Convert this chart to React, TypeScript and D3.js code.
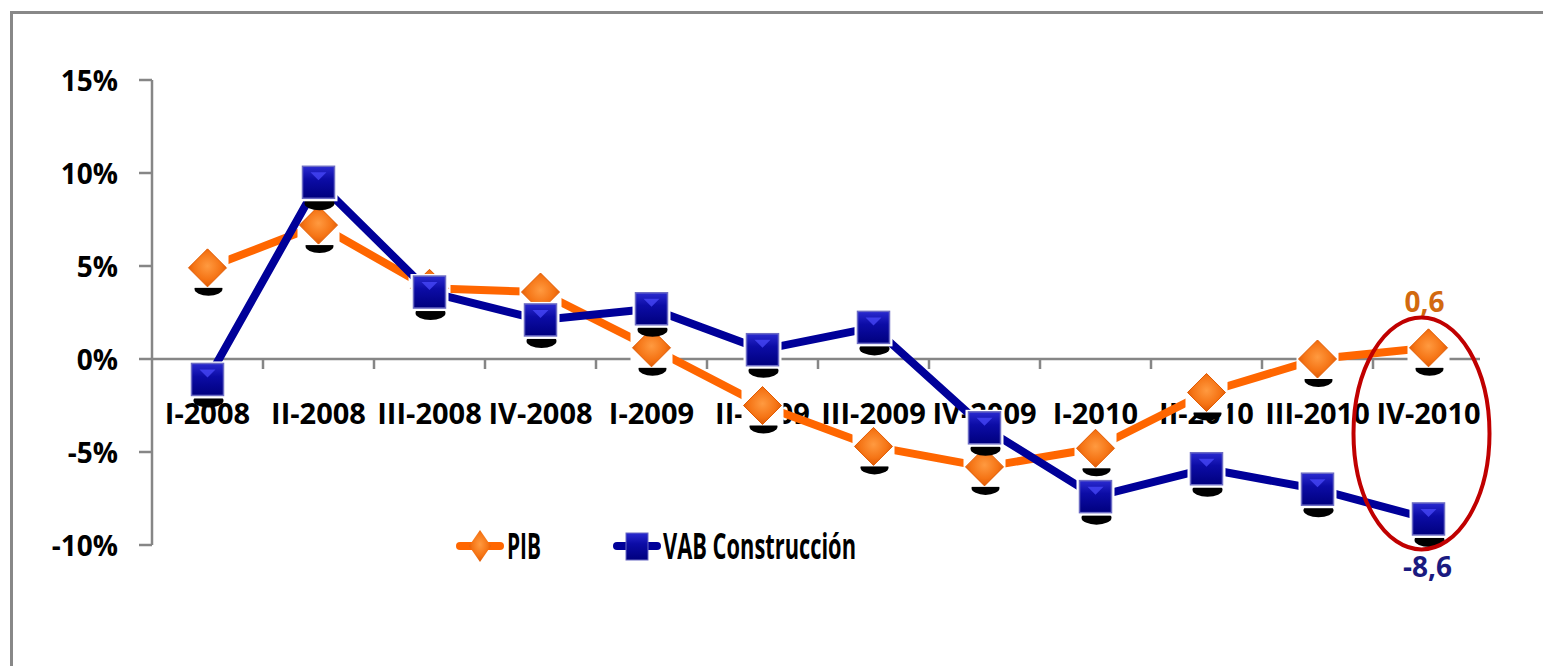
import * as d3 from 'd3';

const categories = ['I-2008', 'II-2008', 'III-2008', 'IV-2008', 'I-2009', 'II-2009', 'III-2009', 'IV-2009', 'I-2010', 'II-2010', 'III-2010', 'IV-2010'];
const pib = [4.9, 7.2, 3.8, 3.6, 0.6, -2.5, -4.7, -5.8, -4.8, -1.8, 0.0, 0.6];
const vab = [-1.1, 9.5, 3.6, 2.1, 2.7, 0.5, 1.7, -3.7, -7.4, -5.9, -7.0, -8.6];
const yTicks = [15, 10, 5, 0, -5, -10];
const seriesNames = ['PIB', 'VAB Construcción'];

const W = 1543;
const H = 666;
const FONT = '"Open Sans", "DejaVu Sans", sans-serif';
const ORANGE = '#ff6600';
const NAVY = '#000099';
const GRID = '#868686';

export default function App() {
  const x = d3.scaleBand<string>().domain(categories).range([152, 1484]).paddingInner(0).paddingOuter(0);
  const y = d3.scaleLinear().domain([-10, 15]).range([545, 80]);
  const cx = (c: string) => (x(c) as number) + x.bandwidth() / 2;

  const line = d3.line<number>()
    .x((_, i) => cx(categories[i]))
    .y(d => y(d));

  const fmt = (v: number) => v.toFixed(1).replace('.', ',');
  const last = categories.length - 1;
  const lx = cx(categories[last]);

  const diamond = (px: number, py: number, w: number, h: number) =>
    `M${px},${py - h / 2}L${px + w / 2},${py}L${px},${py + h / 2}L${px - w / 2},${py}Z`;

  const diamondMarker = (px: number, py: number, key: string) => (
    <g key={key}>
      <ellipse cx={px + 1} cy={py + 21} rx={14} ry={7} fill="#000" />
      <rect x={px - 21} y={py - 21} width={42} height={41} fill="#fff" />
      <path d={diamond(px, py, 38, 38)} fill="url(#gOrange)" stroke="#e25a00" strokeWidth={1} strokeLinejoin="round" />
    </g>
  );

  const squareMarker = (px: number, py: number, key: string) => (
    <g key={key}>
      <ellipse cx={px + 1} cy={py + 21} rx={15} ry={7} fill="#000" />
      <rect x={px - 19} y={py - 18} width={38} height={37} fill="#fff" />
      <rect x={px - 16} y={py - 16} width={32} height={32} fill="url(#gNavy)" stroke="#6b6bc4" strokeWidth={1.5} />
      <path d={`M${px - 8},${py - 10}L${px + 8},${py - 10}L${px},${py - 2}Z`} fill="#4d4dff" opacity={0.7} />
    </g>
  );

  return (
    <svg width={W} height={H} style={{ position: 'absolute', left: 0, top: 0, background: '#fff' }} fontFamily={FONT}>
      <defs>
        <radialGradient id="gOrange" cx="0.5" cy="0.45" r="0.6">
          <stop offset="0" stopColor="#ff9a40" />
          <stop offset="0.6" stopColor="#f57415" />
          <stop offset="1" stopColor="#d85200" />
        </radialGradient>
        <linearGradient id="gNavy" x1="0" y1="0" x2="0" y2="1">
          <stop offset="0" stopColor="#2a2ad0" />
          <stop offset="0.4" stopColor="#0c0ca6" />
          <stop offset="1" stopColor="#00007e" />
        </linearGradient>
      </defs>

      {/* frame */}
      <path d={`M11.5,${H}V12.5H${W}`} fill="none" stroke="#888" strokeWidth={3} />

      {/* y axis */}
      <line x1={152} x2={152} y1={y(15)} y2={y(-10)} stroke={GRID} strokeWidth={2.5} />
      {yTicks.map(t => (
        <g key={t}>
          <line x1={139} x2={152} y1={y(t)} y2={y(t)} stroke={GRID} strokeWidth={2.5} />
          <text x={118} y={y(t) + 11} textAnchor="end" fontSize={28} fontWeight="bold" fill="#000">{`${t}%`}</text>
        </g>
      ))}

      {/* x axis */}
      <line x1={152} x2={1480} y1={y(0)} y2={y(0)} stroke={GRID} strokeWidth={2.5} />
      {categories.slice(1).map(c => (
        <line key={c} x1={x(c) as number} x2={x(c) as number} y1={y(0)} y2={y(0) + 10} stroke={GRID} strokeWidth={2.5} />
      ))}
      {categories.map(c => (
        <text key={c} x={cx(c)} y={y(0) + 65} textAnchor="middle" fontSize={29} fontWeight="bold" fill="#000">{c}</text>
      ))}

      {/* PIB */}
      <path d={line(pib) as string} fill="none" stroke={ORANGE} strokeWidth={8} strokeLinejoin="round" />
      {pib.map((v, i) => diamondMarker(cx(categories[i]), y(v), `p${i}`))}

      {/* VAB */}
      <path d={line(vab) as string} fill="none" stroke={NAVY} strokeWidth={8} strokeLinejoin="round" />
      {vab.map((v, i) => squareMarker(cx(categories[i]), y(v), `v${i}`))}

      {/* annotations */}
      <text x={lx - 4} y={y(pib[last]) - 36} textAnchor="middle" fontSize={28} fontWeight="bold" fill="#d2690f">{fmt(pib[last])}</text>
      <text x={lx - 1} y={y(vab[last]) + 58} textAnchor="middle" fontSize={28} fontWeight="bold" fill="#1a1a80">{fmt(vab[last])}</text>
      <ellipse cx={lx - 7} cy={(y(pib[last]) + y(vab[last])) / 2} rx={68} ry={116} fill="none" stroke="#c00000" strokeWidth={4} />

      {/* legend */}
      <g>
        <line x1={460} x2={500} y1={546} y2={546} stroke={ORANGE} strokeWidth={8} strokeLinecap="round" />
        <path d={diamond(480, 546, 22, 32)} fill="url(#gOrange)" />
        <text x={507} y={559} fontSize={36} fontWeight="bold" textLength={34} lengthAdjust="spacingAndGlyphs" fill="#000">{seriesNames[0]}</text>
        <line x1={617} x2={657} y1={546} y2={546} stroke={NAVY} strokeWidth={8} strokeLinecap="round" />
        <rect x={626} y={533} width={22} height={27} fill="url(#gNavy)" stroke="#6b6bc4" strokeWidth={1} />
        <text x={663} y={559} fontSize={36} fontWeight="bold" textLength={193} lengthAdjust="spacingAndGlyphs" fill="#000">{seriesNames[1]}</text>
      </g>
    </svg>
  );
}
